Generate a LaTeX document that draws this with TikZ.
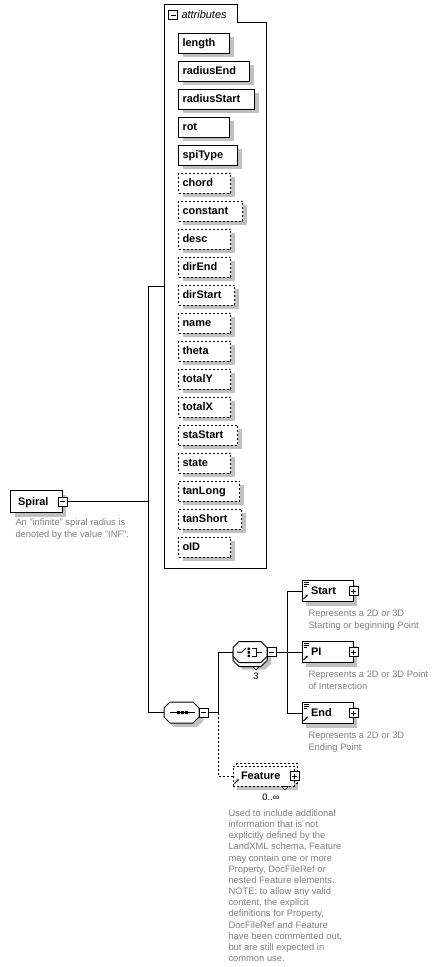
\documentclass[tikz,border=0pt]{standalone}
\usepackage{fontspec}
\setmainfont{Liberation Sans}
\usetikzlibrary{shadows,arrows.meta}
\definecolor{descgray}{RGB}{128,128,128}
\definecolor{shadowgray}{RGB}{192,192,192}
\newcommand\octshape[5]{({#1-#3+#5},{#2-#4}) -- ({#1+#3-#5},{#2-#4}) -- ({#1+#3},{#2-#4+#5}) -- ({#1+#3},{#2+#4-#5}) -- ({#1+#3-#5},{#2+#4}) -- ({#1-#3+#5},{#2+#4}) -- ({#1-#3},{#2+#4-#5}) -- ({#1-#3},{#2-#4+#5}) -- cycle}
\begin{document}
\begin{tikzpicture}[x=1bp,y=-1bp,line width=1bp,
 shd/.style={general shadow={fill=shadowgray,shadow xshift=4bp,shadow yshift=-4bp}},
 attrbox/.style={draw,fill=white,shd,anchor=west,inner xsep=4bp,inner ysep=0pt,minimum height=20bp,text height=9bp,text depth=2bp,align=left,font=\bfseries\fontsize{11}{13}\selectfont},
 optattr/.style={attrbox,dash pattern=on 2bp off 2bp},
 elembox/.style={draw,fill=white,inner xsep=9bp,inner ysep=0pt,minimum height=21bp,text height=9bp,text depth=2bp,align=left,font=\bfseries\fontsize{11}{13}\selectfont},
 pmbox/.style={draw,fill=white,minimum size=9bp,inner sep=0pt,line width=0.8bp},
 minusbox/.style={pmbox,path picture={\draw[line width=0.8bp] ([xshift=2bp]path picture bounding box.west) -- ([xshift=-2bp]path picture bounding box.east);}},
 plusbox/.style={pmbox,path picture={\draw[line width=0.8bp] ([xshift=2bp]path picture bounding box.west) -- ([xshift=-2bp]path picture bounding box.east) ([yshift=2bp]path picture bounding box.south) -- ([yshift=-2bp]path picture bounding box.north);}},
 desctext/.style={anchor=base west,inner sep=0pt,text=descgray,font=\fontsize{9.4}{12}\selectfont},
 invis/.style={inner sep=0pt,outer sep=0pt},
 refarrow/.style={line width=0.8bp,-{Latex[length=2.5bp,width=2.5bp]}},
 dsh/.style={dash pattern=on 2bp off 2bp}
]
\fill[white] (0,0) rectangle (435,967);
\useasboundingbox (0,0) rectangle (435,967);

% attributes container
\node[invis,minimum width=102bp,minimum height=563bp] (attrs) at (215,286.5) {};
\draw (attrs.south west) -- (attrs.north west) -- ++(73,0) -- ++(0,18) -| (attrs.south east) -- cycle;
\node[minusbox] (attrm) at (173,15) {};
\node[anchor=west,inner sep=0pt,font=\itshape\fontsize{11}{13}\selectfont] (attrt) at (181,15) {attributes};

\foreach \n/\w/\s [count=\i from 0] in {length/43/attrbox,radiusEnd/63/attrbox,radiusStart/68/attrbox,rot/43/attrbox,spiType/51/attrbox,chord/44/optattr,constant/56/optattr,desc/44/optattr,dirEnd/44/optattr,dirStart/48/optattr,name/44/optattr,theta/44/optattr,totalY/44/optattr,totalX/44/optattr,staStart/51/optattr,state/44/optattr,tanLong/53/optattr,tanShort/55/optattr,oID/44/optattr}
  \node[\s,text width=\w bp] (att\i) at (178,{43+28*\i}) {\n};

% Spiral
\node[elembox,shd,inner xsep=7bp,text width=37bp,minimum height=22bp] (spiral) at (36.5,501.5) {Spiral};
\node[minusbox] (spiralm) at (spiral.east) {};
\node[desctext] (sd1) at (15,525.5) {An "infinite" spiral radius is};
\node[desctext] (sd2) at (15,537.5) {denoted by the value "INF".};

\coordinate (tr1) at (148,0);
\coordinate (tr2) at (218,0);
\coordinate (tr3) at (287,0);

% sequence
\fill[shadowgray] \octshape{185.5}{716.5}{17.5}{10.5}{6};
\draw[fill=white] \octshape{181.5}{712.5}{17.5}{10.5}{6};
\node[invis,minimum width=35bp,minimum height=21bp] (seq) at (181.5,712.5) {};
\draw (170,712.5) -- (195,712.5);
\fill (177,711) rectangle ++(3,3) (181,711) rectangle ++(3,3) (185,711) rectangle ++(3,3);
\node[minusbox,anchor=west] (seqm) at (seq.east) {};

% choice
\fill[shadowgray] \octshape{254}{659}{17}{10.5}{6};
\draw[fill=white] \octshape{250}{656}{17}{10.5}{6};
\draw[fill=white,line width=0.8bp] (253,666.5) -- (259,666.5) -- (256,670) -- cycle;
\draw[fill=white] \octshape{250}{652}{17}{10.5}{6};
\node[invis,minimum width=34bp,minimum height=21bp] (ch) at (250,652) {};
\draw (237,652) -- (242,652) -- (246,648);
\fill (247.5,647.5) rectangle ++(2.5,2.5) (247.5,651) rectangle ++(2.5,2.5) (247.5,654.5) rectangle ++(2.5,2.5);
\draw (251.5,648.5) -- (256,648.5) -- (256,656) -- (251.5,656) (256,652) -- (262,652);
\node[minusbox,anchor=west] (chm) at (ch.east) {};
\node[inner sep=0pt,font=\fontsize{9.4}{11}\selectfont] (chn) at (256,676) {3};

% elements
\foreach \nm/\t/\y in {start/Start/591,pi/PI/652,endel/End/713} {
  \node[elembox,shd,text width=33bp] (\nm) at (327.5,\y) {\t};
  \node[plusbox] (\nm p) at (\nm.east) {};
  \draw[line width=0.7bp] ([shift={(2,2)}]\nm.north west) -- ++(5,0) ([shift={(2,4)}]\nm.north west) -- ++(5,0) ([shift={(2,6)}]\nm.north west) -- ++(3,0);
  \draw[refarrow] ([shift={(2,19)}]\nm.north west) -- ++(4.5,-4.5);
}
\node[desctext] (sdA) at (308,616.5) {Represents a 2D or 3D};
\node[desctext] (sdB) at (308,628.5) {Starting or beginning Point};
\node[desctext] (pdA) at (308,677.5) {Represents a 2D or 3D Point};
\node[desctext] (pdB) at (308,689.5) {of Intersection};
\node[desctext] (edA) at (308,738.5) {Represents a 2D or 3D};
\node[desctext] (edB) at (308,750.5) {Ending Point};

% Feature
\fill[shadowgray] (237,770) rectangle (298,790);
\draw[fill=white,dsh] (236,763) rectangle (297,783);
\node[elembox,dsh,inner xsep=8bp,text width=45bp,minimum height=20bp] (feat) at (263.5,776) {Feature};
\draw[fill=white,line width=0.6bp] (282,786.5) -- (288,786.5) -- (285,790) -- cycle;
\node[plusbox] (featp) at (feat.east) {};
\draw[refarrow] ([shift={(2,18)}]feat.north west) -- ++(4.5,-4.5);
\node[inner sep=0pt,font=\fontsize{9.4}{11}\selectfont] (featn) at (271,797.5) {0..∞};
\foreach \t [count=\i from 0] in {Used to include additional,information that is not,explicitly defined by the,{LandXML schema, Feature},may contain one or more,{Property, DocFileRef or},nested Feature elements.,NOTE: to allow any valid,{content, the explicit},{definitions for Property,},DocFileRef and Feature,{have been commented out,},but are still expected in,common use.}
  \node[desctext] (fd\i) at (228,{816.5+11.15*\i}) {\t};

% connectors
\draw (spiralm.east) -- (spiralm.east -| tr1);
\draw (attrs.west) -- (attrs.west -| tr1) -- (seq.west -| tr1) -- (seq.west);
\draw (seqm.east) -- (seqm.east -| tr2) -- (ch.west -| tr2) -- (ch.west);
\draw[dsh] (seqm.east -| tr2) -- (feat.west -| tr2) -- (feat.west);
\draw (chm.east) -- (chm.east -| tr3);
\draw (start.west) -- (start.west -| tr3) -- (endel.west -| tr3) -- (endel.west);
\draw (pi.west) -- (pi.west -| tr3);
\end{tikzpicture}
\end{document}
